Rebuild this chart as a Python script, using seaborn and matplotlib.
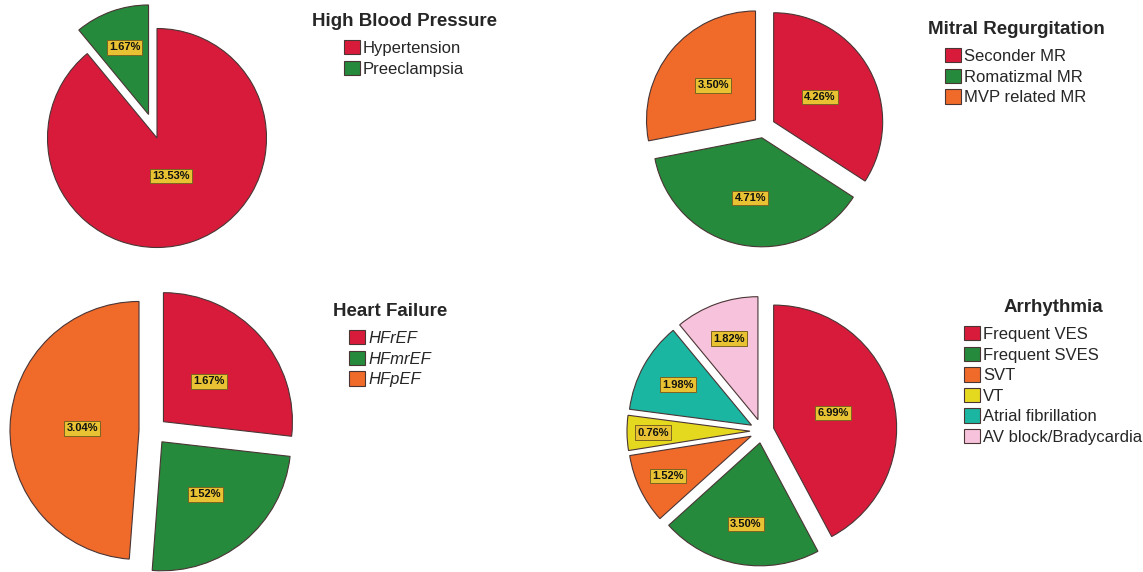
import numpy as np
import matplotlib
matplotlib.use("Agg")
import matplotlib.pyplot as plt
import seaborn as sns

# data (percent of all patients)
hbp_labels = ['Hypertension', 'Preeclampsia']
hbp_values = [13.53, 1.67]

mr_labels = ['Seconder MR', 'Romatizmal MR', 'MVP related MR']
mr_values = [4.26, 4.71, 3.50]

hf_labels = ['HFrEF', 'HFmrEF', 'HFpEF']
hf_values = [1.67, 1.52, 3.04]

arr_labels = ['Frequent VES', 'Frequent SVES', 'SVT', 'VT',
              'Atrial fibrillation', 'AV block/Bradycardia']
arr_values = [6.99, 3.50, 1.52, 0.76, 1.98, 1.82]

sns.set_theme(style="white")
plt.rcParams['font.family'] = ['Liberation Sans', 'DejaVu Sans']

RED, GREEN, ORANGE = '#D91B3B', '#258A3C', '#F06A2A'
YELLOW, TEAL, PINK = '#E5D920', '#1BB6A2', '#F7C3DC'
pal = sns.color_palette([RED, GREEN, ORANGE, YELLOW, TEAL, PINK])

W, H = 1143, 572
fig = plt.figure(figsize=(W / 100, H / 100), dpi=100)
HALF = 160  # half size of each pie axes in px, limits +-1.6 -> 100 px per unit


def pie_axes(cx, cy):
    ax = fig.add_axes([(cx - HALF) / W, (H - cy - HALF) / H, 2 * HALF / W, 2 * HALF / H])
    return ax


def draw(cx, cy, radius, values, labels, explode, fracs, title, legend_xy, italic=False):
    ax = pie_axes(cx, cy)
    wedges, _ = ax.pie(values, colors=pal[:len(values)], startangle=90, counterclock=False,
                       radius=radius, explode=explode,
                       wedgeprops=dict(edgecolor='#4a3535', linewidth=0.8))
    ax.set_xlim(-1.6, 1.6)
    ax.set_ylim(-1.6, 1.6)
    ax.set_aspect('equal')
    ax.axis('off')
    for w, v, f in zip(wedges, values, fracs):
        th = np.deg2rad((w.theta1 + w.theta2) / 2)
        x0, y0 = w.center
        ax.text(x0 + f * w.r * np.cos(th), y0 + f * w.r * np.sin(th), f"{v:.2f}%",
                ha='center', va='center', fontsize=8, fontweight='bold', color='#111111',
                bbox=dict(boxstyle='square,pad=0.2', fc='#E8C232', ec='#7a6420', lw=0.7))
    prop = {'size': 12}
    if italic:
        prop['style'] = 'italic'
    leg = ax.legend(wedges, labels, title=title, loc='upper center',
                    bbox_to_anchor=(legend_xy[0] / W, 1 - legend_xy[1] / H),
                    bbox_transform=fig.transFigure, frameon=False, borderpad=0,
                    handlelength=0.95, handleheight=0.95, handletextpad=0.2,
                    labelspacing=0.28, prop=prop,
                    title_fontproperties={'weight': 'bold', 'size': 13.5})
    leg._legend_box.sep = 7


draw(157, 138, 1.095, hbp_values, hbp_labels, [0, 0.25], [0.37, 0.65],
     'High Blood Pressure', (404, 5))
draw(764, 127, 1.09, mr_values, mr_labels, [0.11] * 3, [0.48, 0.56, 0.5],
     'Mitral Regurgitation', (1016, 13))
draw(153, 431, 1.29, hf_values, hf_labels, [0.14] * 3, [0.47, 0.53, 0.44],
     'Heart Failure', (390, 295), italic=True)
draw(762, 431, 1.23, arr_values, arr_labels, [0.12] * 6, [0.5, 0.67, 0.75, 0.79, 0.68, 0.70],
     'Arrhythmia', (1053, 291))

fig.savefig('out.png', dpi=100)
